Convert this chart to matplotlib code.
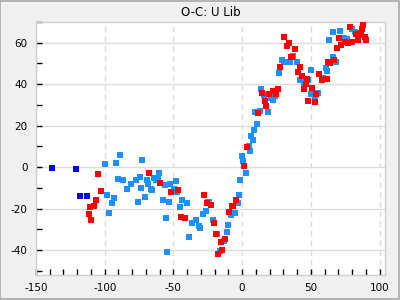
import matplotlib
matplotlib.use("Agg")
import matplotlib.pyplot as plt
from matplotlib.patches import Rectangle
from matplotlib.ticker import MultipleLocator

plt.rcParams["axes.unicode_minus"] = False

# Dark blue series (earliest points, far left)
early_x = [-138.4, -120.8, -117.8, -112.8]
early_y = [-0.5, -1.1, -14.1, -14.1]

# Light blue series
blue_x = [-99.7, -88.8, -91.7, -90.3, -86.6, -83.7, -98.3, -93.2, -94.6, -96.8,
          -72.9, -60.5, -74.3, -77.4, -80.8, -69.2, -68.5, -64.2, -62.7, -61.2,
          -66.5, -65.6, -73.6, -56.2, -52.5, -48.2, -47.5, -49.6, -75.8, -70.7,
          -57.6, -53.3, -43.8, -40.2, -45.3, -25.0, -55.4, -33.7, -36.6, -28.6,
          -26.4, -31.5, -30.8, -38.8, -54.7,
          -24.2, -21.3, -18.4, -16.3, -13.4, -11.2, -10.4, -8.3, -5.4, -3.2,
          -2.5, -1.7, 2.6, 0.4, -0.3, 5.5, 4.8,
          6.2, 7.7, 8.4, 10.6, 9.1, 12.8, 18.6, 22.2, 20.8, 23.7, 15.7, 13.5, 26.6,
          28.7, 30.2, 32.4, 34.5, 39.7, 37.4, 42.5, 44.7, 47.6, 45.4, 50.5, 49.8,
          55.6, 52.7, 59.2, 60.7, 62.1, 63.2,
          66.5, 68.7, 65.8, 71.6, 74.5, 76.6, 80.3, 82.4]
blue_y = [1.3, 6.1, 1.8, -5.9, -6.4, -10.3, -13.2, -15.1, -17.5, -22.3,
          3.7, -2.6, -4.5, -6.4, -7.9, -6.4, -7.9, -5.0, -6.4, -5.0,
          -10.3, -10.8, -9.8, -8.8, -8.3, -6.9, -12.2, -10.3, -17.0, -14.6,
          -15.6, -17.0, -15.6, -17.5, -19.4, -17.0, -24.7, -25.7, -27.1, -22.8,
          -20.9, -28.6, -29.5, -33.9, -41.1,
          -17.0, -25.7, -32.4, -40.6, -35.8, -31.5, -28.1, -23.3, -22.3, -17.5,
          -13.6, -6.4, -3.0, 3.2, 5.2, 7.6, 10.1,
          14.8, 13.3, 17.7, 20.6, 26.4, 27.3, 26.8, 32.6, 33.6, 34.1, 34.6, 37.9, 45.2,
          51.9, 50.5, 50.5, 50.5, 50.5, 53.8, 41.8, 41.8, 41.8, 39.4, 47.1, 35.5,
          36.0, 33.6, 43.2, 48.0, 46.6, 61.5,
          52.9, 50.5, 65.4, 65.9, 62.5, 62.0, 66.8, 65.4]

# Red series
red_x = [-104.8, -102.6, -106.2, -107.7, -110.6, -111.3, -109.9,
         -67.8, -59.8, -51.8, -46.7, -44.6, -41.7,
         -27.9, -25.7, -22.8, -20.6, -19.2, -17.7, -15.2, -14.5, -12.6, -9.7,
         -7.5, -6.8, -4.6, 1.2, 3.3,
         11.3, 17.1, 16.4, 14.2, 19.3, 22.2, 24.4, 25.8,
         27.3, 30.2, 33.8, 32.4, 38.2, 36.0, 35.3, 41.8, 40.4, 43.3, 46.9, 46.2,
         45.4, 51.2, 54.1, 48.3, 53.4, 56.3, 57.8, 60.7, 62.1, 62.8, 64.3, 67.2,
         69.4, 72.3, 70.8, 75.2, 77.4, 80.3, 84.6, 83.2, 85.3, 86.8, 87.5, 88.2,
         89.6, 90.4, 78.8]
red_y = [-3.5, -11.7, -15.6, -18.9, -19.4, -22.8, -25.7,
         -2.6, -7.4, -12.2, -10.8, -24.2, -24.7,
         -13.2, -17.5, -18.0, -27.1, -32.0, -42.1, -36.3, -39.7, -34.8, -21.8,
         -18.9, -18.5, -15.6, 0.8, 9.5,
         25.9, 29.3, 32.1, 36.0, 35.5, 36.5, 35.5, 37.9,
         48.5, 63.0, 60.1, 58.6, 57.2, 53.3, 52.9, 48.5, 46.1, 44.2, 42.3, 40.3,
         37.9, 38.4, 35.5, 32.1, 31.2, 44.7, 41.8, 42.7, 42.7, 50.5, 50.0, 51.9,
         57.7, 59.1, 62.5, 60.6, 60.1, 60.6, 61.1, 64.0, 63.5, 64.9, 66.4, 68.8,
         63.0, 61.5, 67.8]

fig = plt.figure(figsize=(4, 3), dpi=100, facecolor="#f0f0f0")
ax = fig.add_axes([0.09, 0.0833, 0.8725, 0.8433])
ax.set_facecolor("white")

ms = 3.8
ax.plot(blue_x, blue_y, "s", color="#1e90ff", ms=ms, mew=0, zorder=3)
ax.plot(red_x, red_y, "s", color="#ff0000", ms=ms, mew=0, zorder=3)
ax.plot(early_x, early_y, "s", color="#0000ff", ms=ms, mew=0, zorder=3)

ax.set_xlim(-150, 104)
ax.set_ylim(-52, 70)
ax.xaxis.set_major_locator(MultipleLocator(50))
ax.xaxis.set_minor_locator(MultipleLocator(10))
ax.yaxis.set_major_locator(MultipleLocator(20))
ax.yaxis.set_minor_locator(MultipleLocator(10))

ax.grid(True, axis="y", which="major", color="#dcdcdc", lw=1, ls="-")
ax.grid(True, axis="x", which="major", color="#dcdcdc", lw=1, ls=(0, (4, 3)))
ax.set_axisbelow(True)

ax.tick_params(which="both", direction="in", length=4, width=1, color="black",
               labelsize=7.5, top=False, right=False)
ax.tick_params(axis="x", pad=6)
ax.tick_params(axis="y", pad=6)
for s in ax.spines.values():
    s.set_color("#d0d0d0")
    s.set_linewidth(1)

ax.set_title("O-C: U Lib", fontsize=8.5, pad=4)

# thin frame round the whole figure
fig.patches.append(Rectangle((0.001, 0.002), 0.997, 0.995, transform=fig.transFigure,
                             fill=False, edgecolor="#a8a8a8", lw=1.2))

fig.savefig("out.png", dpi=100, facecolor=fig.get_facecolor())
